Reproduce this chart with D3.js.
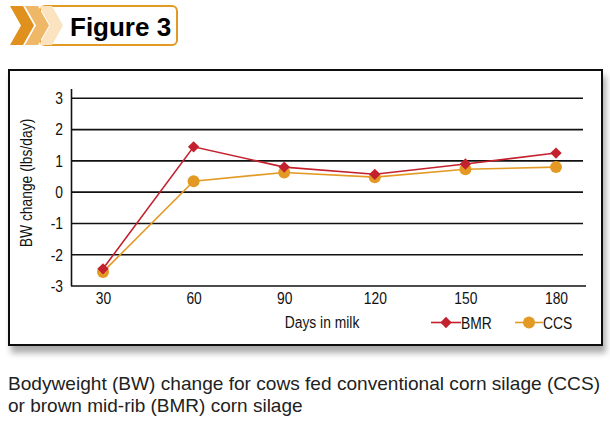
<!DOCTYPE html>
<html><head><meta charset="utf-8">
<script src="https://cdn.jsdelivr.net/npm/d3@7"></script>
<style>
html,body{margin:0;padding:0;background:#fff;}
svg{display:block;}
</style></head>
<body>
<script>
const days = ["30","60","90","120","150","180"];
const bmr = [-2.45, 1.45, 0.8, 0.57, 0.9, 1.25];
const ccs = [-2.55, 0.35, 0.63, 0.48, 0.73, 0.8];
const yTicks = [-3,-2,-1,0,1,2,3];
const colors = {BMR:"#c4212e", CCS:"#e39a24"};

const FONT = "Liberation Sans, Arial, sans-serif";
const SQ = 0.84; // horizontal condense factor
const W=610,H=421;
const svg = d3.select("body").append("svg").attr("width",W).attr("height",H);
const defs = svg.append("defs");
const f = defs.append("filter").attr("id","sh").attr("x","-5%").attr("y","-5%").attr("width","115%").attr("height","125%");
f.append("feDropShadow").attr("dx",3).attr("dy",7).attr("stdDeviation",3).attr("flood-color","#000").attr("flood-opacity",0.33);

function condText(parent, tx, ty, str, anchor, rot){
  const gg = parent.append("g").attr("transform",`translate(${tx},${ty})${rot?` rotate(${rot})`:""} scale(${SQ},1)`);
  return gg.append("text").attr("font-family",FONT).attr("font-size",16.5).attr("fill","#111")
    .attr("text-anchor",anchor||"start").text(str);
}

// header
const hdr = svg.append("g");
hdr.append("rect").attr("x",40).attr("y",6).attr("width",137).attr("height",39).attr("rx",5)
  .attr("fill","#fff").attr("stroke","#e39a24").attr("stroke-width",2);
const chev = (x0,c)=>{
  const w=13, d=11;
  hdr.append("path").attr("d",`M${x0},6 L${x0+w},6 L${x0+w+d},25.5 L${x0+w},45 L${x0},45 L${x0+d},25.5 Z`).attr("fill",c);
};
chev(39,"#fbe3c0");
chev(25,"#efb868");
chev(10,"#e0901c");
hdr.append("text").attr("x",70).attr("y",36).attr("font-family",FONT)
  .attr("font-weight","bold").attr("font-size",26).attr("fill","#000").text("Figure 3");

// frame
svg.append("rect").attr("x",9).attr("y",70).attr("width",593).attr("height",275)
  .attr("fill","#fff").attr("stroke","#111").attr("stroke-width",2).attr("filter","url(#sh)");

const x = d3.scalePoint().domain(days).range([103,556]);
const y = d3.scaleLinear().domain([-3,3]).range([286,98.3]);

const g = svg.append("g");
// gridlines
g.selectAll(".grid").data(yTicks.filter(d=>d>-3)).enter().append("line")
  .attr("x1",72).attr("x2",583).attr("y1",d=>y(d)).attr("y2",d=>y(d))
  .attr("stroke","#111").attr("stroke-width",1.6);
// x axis
const xAxis = g.append("g").attr("transform",`translate(0,${y(-3)})`)
  .call(d3.axisBottom(x).tickSize(0).tickPadding(6));
xAxis.select(".domain").remove();
xAxis.selectAll("text").attr("font-family",FONT).attr("font-size",16.5).attr("fill","#111")
  .attr("transform",`scale(${SQ},1)`);
g.append("line").attr("x1",71).attr("x2",586).attr("y1",y(-3)).attr("y2",y(-3)).attr("stroke","#111").attr("stroke-width",1.6);
// y axis
const yAxis = g.append("g").attr("transform","translate(63,0)")
  .call(d3.axisLeft(y).tickValues(yTicks).tickSize(0).tickPadding(0).tickFormat(d=>String(d)));
yAxis.select(".domain").remove();
yAxis.selectAll("text").attr("font-family",FONT).attr("font-size",16.5).attr("fill","#111")
  .attr("transform",`scale(${SQ},1)`);
g.append("line").attr("x1",71.5).attr("x2",71.5).attr("y1",89).attr("y2",y(-3)).attr("stroke","#111").attr("stroke-width",1.6);

// titles
condText(svg,322,328,"Days in milk","middle");
condText(svg,32,183,"BW change (lbs/day)","middle",-90);

// series
const line = d3.line().x((d,i)=>x(days[i])).y(d=>y(d));
const data = {BMR:bmr, CCS:ccs};
function marker(sel,name,cx,cy){
  if(name==="BMR"){
    sel.append("path").attr("d",d3.symbol().type(d3.symbolSquare).size(64)())
      .attr("transform",`translate(${cx},${cy}) rotate(45)`).attr("fill",colors.BMR);
  } else {
    sel.append("circle").attr("cx",cx).attr("cy",cy).attr("r",6).attr("fill",colors.CCS);
  }
}
["CCS","BMR"].forEach(name=>{
  g.append("path").datum(data[name]).attr("d",line).attr("fill","none")
    .attr("stroke",colors[name]).attr("stroke-width",1.6);
});
["CCS","BMR"].forEach(name=>{
  const mg = g.append("g");
  data[name].forEach((v,i)=>marker(mg,name,x(days[i]),y(v)));
});

// legend
const leg = [{name:"BMR",x0:431,x1:461},{name:"CCS",x0:515,x1:543}];
leg.forEach(l=>{
  const lg = svg.append("g");
  lg.append("line").attr("x1",l.x0).attr("x2",l.x1).attr("y1",322.5).attr("y2",322.5).attr("stroke",colors[l.name]).attr("stroke-width",1.6);
  marker(lg,l.name,(l.x0+l.x1)/2,322.5);
  condText(lg,l.x1,328.5,l.name,"start");
});

// caption
const cap = svg.append("text").attr("font-family",FONT).attr("font-size",19).attr("fill","#222");
cap.append("tspan").attr("x",8).attr("y",390).attr("textLength",592).attr("lengthAdjust","spacingAndGlyphs")
  .text("Bodyweight (BW) change for cows fed conventional corn silage (CCS)");
cap.append("tspan").attr("x",8).attr("y",412).text("or brown mid-rib (BMR) corn silage");
</script>
</body></html>
